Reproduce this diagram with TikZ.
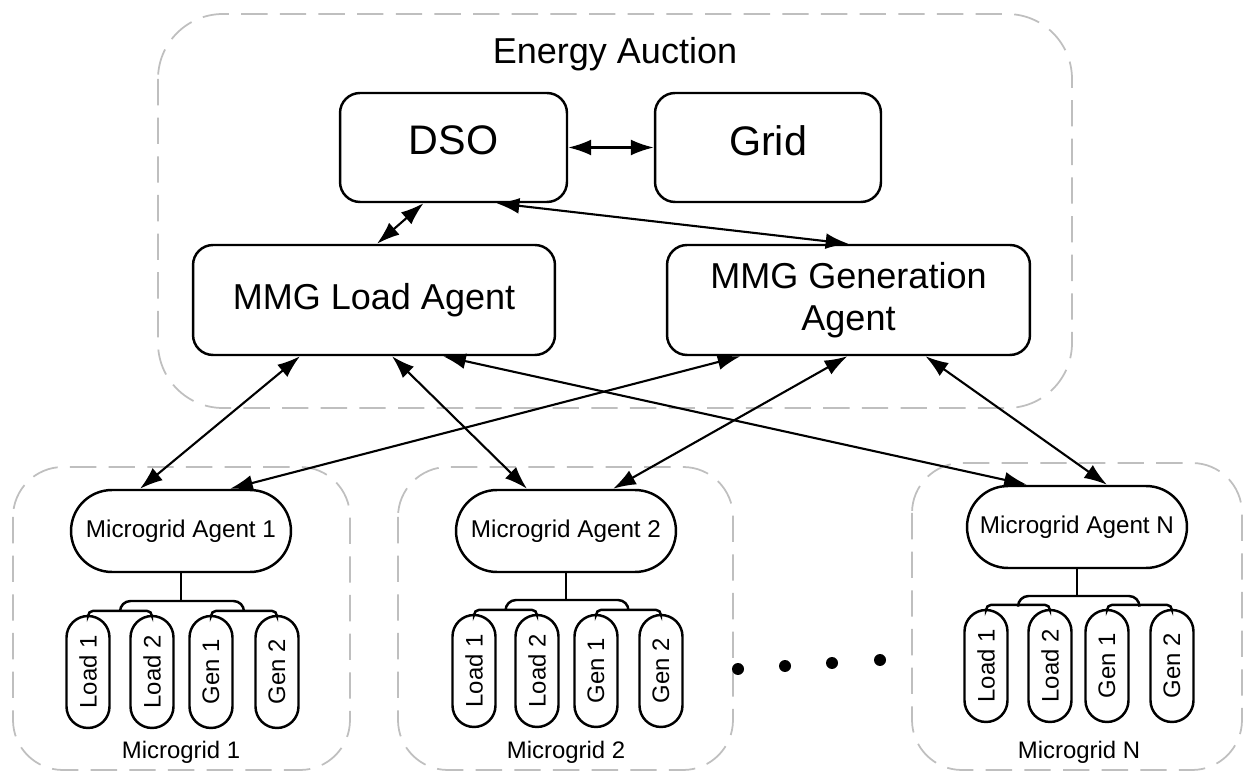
\documentclass[tikz,border=0pt]{standalone}
\usepackage{fontspec}
\setmainfont{Liberation Sans}
\usetikzlibrary{arrows.meta,shapes.misc,calc}

\begin{document}
\begin{tikzpicture}[x=0.02cm,y=-0.02cm,
        box/.style={draw,line width=1.4pt,rounded corners=0.4cm,align=center},
        agent/.style={draw,line width=1.4pt,rounded rectangle,minimum width=4.4cm,
                      minimum height=1.64cm,inner sep=0pt,font=\fontsize{13.8}{16}\selectfont},
        leaf/.style={draw,line width=1.4pt,rounded rectangle,rotate=90,minimum width=2.24cm,
                     minimum height=0.86cm,inner sep=0pt,font=\fontsize{13.6}{16}\selectfont},
        area/.style={draw=gray!50,line width=1pt,dash pattern=on 15pt off 7pt},
        link/.style={{Latex[length=13pt,width=9pt]}-{Latex[length=13pt,width=9pt]},line width=1.2pt},
        tree/.style={line width=1.4pt,rounded corners=3pt}]
        \useasboundingbox (0,0) rectangle (1249,773);

        % dashed areas
        \draw[area,rounded corners=1.3cm] (158,14) rectangle (1072,408);     %auction
        \draw[area,rounded corners=1cm] (13,467) rectangle (350,770);        %microgrid 1
        \draw[area,rounded corners=1cm] (398,467) rectangle (733,770);       %microgrid 2
        \draw[area,rounded corners=1cm] (912,463) rectangle (1242,770);      %microgrid N
        \node (auction) at (615,54) {\fontsize{20.5}{24}\selectfont Energy Auction};
        \node (mgl1) at (181,752) {\fontsize{13.6}{16}\selectfont Microgrid 1};
        \node (mgl2) at (566,752) {\fontsize{13.6}{16}\selectfont Microgrid 2};
        \node (mgln) at (1079,752) {\fontsize{13.6}{16}\selectfont Microgrid N};

        % auction agents
        \node[box,minimum width=4.54cm,minimum height=2.18cm,text depth=0.28cm,
              font=\fontsize{23.5}{28}\selectfont] (dso) at (453.5,147.5) {DSO};
        \node[box,minimum width=4.52cm,minimum height=2.18cm,text depth=0.28cm,
              font=\fontsize{23.5}{28}\selectfont] (grid) at (768,147.5) {Grid};
        \node[box,minimum width=7.24cm,minimum height=2.2cm,font=\fontsize{20.5}{24}\selectfont]
            (loadag) at (374,300) {MMG Load Agent};
        \node[box,minimum width=7.26cm,minimum height=2.2cm,font=\fontsize{20.5}{24}\selectfont]
            (genag) at (848.5,300) {MMG Generation\\Agent};

        % microgrid 1
        \node[agent] (mga1) at (181,531) {Microgrid Agent 1};
        \node[leaf] (l11) at (88,672)  {Load 1};
        \node[leaf] (l12) at (152,672) {Load 2};
        \node[leaf] (g11) at (211,672) {Gen 1};
        \node[leaf] (g12) at (277,672) {Gen 2};
        \coordinate (fork1) at (181,601);
        \draw[tree] (l11.east) -- ++(0,-4) -| (l12.east);
        \draw[tree] (g11.east) -- ++(0,-4) -| (g12.east);
        \draw[tree,rounded corners=6pt] ($(l11.east)!.5!(l12.east)+(0,-4)$) |- (fork1)
            -| ($(g11.east)!.5!(g12.east)+(0,-4)$);
        \draw[tree] (mga1.south) -- (fork1);

        % microgrid 2
        \node[agent] (mga2) at (566,531) {Microgrid Agent 2};
        \node[leaf] (l21) at (474,671) {Load 1};
        \node[leaf] (l22) at (537,671) {Load 2};
        \node[leaf] (g21) at (596,671) {Gen 1};
        \node[leaf] (g22) at (661,671) {Gen 2};
        \coordinate (fork2) at (566,600);
        \draw[tree] (l21.east) -- ++(0,-4) -| (l22.east);
        \draw[tree] (g21.east) -- ++(0,-4) -| (g22.east);
        \draw[tree,rounded corners=6pt] ($(l21.east)!.5!(l22.east)+(0,-4)$) |- (fork2)
            -| ($(g21.east)!.5!(g22.east)+(0,-4)$);
        \draw[tree] (mga2.south) -- (fork2);

        % microgrid N
        \node[agent] (mgan) at (1077,527) {Microgrid Agent N};
        \node[leaf] (ln1) at (986,666)  {Load 1};
        \node[leaf] (ln2) at (1050,666) {Load 2};
        \node[leaf] (gn1) at (1107,666) {Gen 1};
        \node[leaf] (gn2) at (1172,666) {Gen 2};
        \coordinate (forkn) at (1077,596);
        \draw[tree] (ln1.east) -- ++(0,-4) -| (ln2.east);
        \draw[tree] (gn1.east) -- ++(0,-4) -| (gn2.east);
        \draw[tree,rounded corners=6pt] ($(ln1.east)!.5!(ln2.east)+(0,-4)$) |- (forkn)
            -| ($(gn1.east)!.5!(gn2.east)+(0,-4)$);
        \draw[tree] (mgan.south) -- (forkn);

        % dots
        \fill (738,669) circle (0.12cm);
        \fill (785,666) circle (0.12cm);
        \fill (832,663) circle (0.12cm);
        \fill (880,660) circle (0.12cm);

        % links
        \draw[link] (dso.east) -- (grid.west);
        \draw[link] ($(dso.south)+(-30,0)$) -- ($(loadag.north)+(3,0)$);
        \draw[link] ($(dso.south)+(43,0)$) -- (genag.north);
        \draw[link] ($(loadag.south)+(-74,0)$) -- ($(mga1.north)+(-41,0)$);
        \draw[link] ($(genag.south)+(-108,0)$) -- ($(mga1.north)+(49,0)$);
        \draw[link] ($(loadag.south)+(18,0)$) -- ($(mga2.north)+(-39,0)$);
        \draw[link] ($(genag.south)+(-1,0)$) -- ($(mga2.north)+(47,0)$);
        \draw[link] ($(loadag.south)+(69,0)$) -- ($(mgan.north)+(-50,0)$);
        \draw[link] ($(genag.south)+(77,0)$) -- ($(mgan.north)+(30,0)$);
    \end{tikzpicture}
\end{document}
